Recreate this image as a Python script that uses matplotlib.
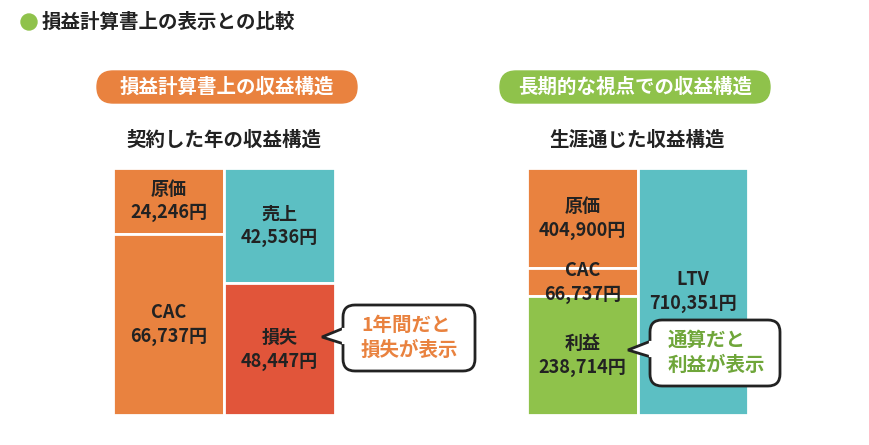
import matplotlib.pyplot as plt
import numpy as np
from matplotlib.patches import FancyBboxPatch, Polygon, Circle

plt.rcParams['font.family'] = ['Noto Sans CJK JP', 'DejaVu Sans']

# left: single-year structure
left_cost = ['原価', 'CAC']
left_cost_vals = [24246, 66737]
left_rev = ['売上', '損失']
left_rev_vals = [42536, 48447]
# right: lifetime structure
right_cost = ['原価', 'CAC', '利益']
right_cost_vals = [404900, 66737, 238714]
right_rev = ['LTV']
right_rev_vals = [710351]

ORANGE = '#E9823F'
TEAL = '#5CBFC3'
RED = '#E1553A'
GREEN = '#8FC24B'

W, H = 870, 445
fig = plt.figure(figsize=(W / 100, H / 100), dpi=100)
bg = fig.add_axes([0, 0, 1, 1])
bg.set_xlim(0, W)
bg.set_ylim(H, 0)
bg.axis('off')


def stack(ax, col, labels, vals, colors):
    bottom = 0
    for lab, v, c in zip(labels, vals, colors):
        ax.bar(col, v, bottom=bottom, width=1, align='edge', color=c,
               edgecolor='white', linewidth=2)
        mid = bottom + v / 2
        if ax.get_yscale() == 'function':
            # centre of the box in the scaled space
            f = ax.yaxis.get_transform()
            mid = f.inverted().transform((f.transform(bottom) + f.transform(bottom + v)) / 2)
        ax.text(col + 0.5, mid, f'{lab}\n{v:,}円', ha='center',
                va='center', fontsize=13, fontweight='bold', color='#222222',
                linespacing=1.3)
        bottom += v


def chart(px, labels_a, vals_a, cols_a, labels_b, vals_b, cols_b, power=None):
    x0, x1, y0, y1 = px
    ax = fig.add_axes([x0 / W, (H - y1) / H, (x1 - x0) / W, (y1 - y0) / H])
    if power:
        ax.set_yscale('function', functions=(lambda y: np.sign(y) * np.abs(y) ** power,
                                             lambda y: np.sign(y) * np.abs(y) ** (1 / power)))
    ax.set_xlim(0, 2)
    ax.set_ylim(sum(vals_a), 0)
    stack(ax, 0, labels_a, vals_a, cols_a)
    stack(ax, 1, labels_b, vals_b, cols_b)
    ax.set_xlim(0, 2)
    ax.set_ylim(sum(vals_a), 0)
    ax.axis('off')


chart((113, 335, 168, 415), left_cost, left_cost_vals, [ORANGE, ORANGE],
      left_rev, left_rev_vals, [TEAL, RED])
chart((527, 748, 168, 415), right_cost, right_cost_vals, [ORANGE, ORANGE, GREEN],
      right_rev, right_rev_vals, [TEAL], power=1.6)

top = fig.add_axes([0, 0, 1, 1])
top.set_xlim(0, W)
top.set_ylim(H, 0)
top.axis('off')
top.patch.set_alpha(0)

# title
top.add_patch(Circle((29, 22), 8, color=GREEN))
top.text(42, 22, '損益計算書上の表示との比較', fontsize=14, fontweight='bold',
         va='center', color='#222222')

# pill headers
for (x, w, c, t) in [(97, 260, ORANGE, '損益計算書上の収益構造'),
                     (500, 270, GREEN, '長期的な視点での収益構造')]:
    top.add_patch(FancyBboxPatch((x, 71), w, 32,
                                 boxstyle='round,pad=0,rounding_size=16',
                                 color=c))
    top.text(x + w / 2, 87, t, ha='center', va='center', fontsize=14,
             fontweight='bold', color='white')

top.text(224, 140, '契約した年の収益構造', ha='center', va='center',
         fontsize=14, fontweight='bold', color='#222222')
top.text(637, 140, '生涯通じた収益構造', ha='center', va='center',
         fontsize=14, fontweight='bold', color='#222222')

# callouts
for (x, y, w, h, tip, t, tc) in [(343, 305, 132, 66, (322, 337), '1年間だと\n損失が表示', '#E9823F'),
                                 (650, 320, 130, 66, (628, 350), '通算だと\n利益が表示', '#6FA63A')]:
    top.add_patch(FancyBboxPatch((x, y), w, h, boxstyle='round,pad=0,rounding_size=12',
                                 fc='white', ec='#222222', lw=2, zorder=3))
    top.add_patch(Polygon([(x + 1, tip[1] - 9), tip, (x + 1, tip[1] + 7)],
                          closed=False, fc='white', ec='#222222', lw=2, zorder=4))
    top.plot([x + 1.5, x + 1.5], [tip[1] - 7, tip[1] + 5], color='white', lw=3, zorder=5)
    top.text(x + 18, y + h / 2, t, va='center', fontsize=14, fontweight='bold',
             color=tc, linespacing=1.4, zorder=6)

fig.savefig('out.png', dpi=100, facecolor='white')
